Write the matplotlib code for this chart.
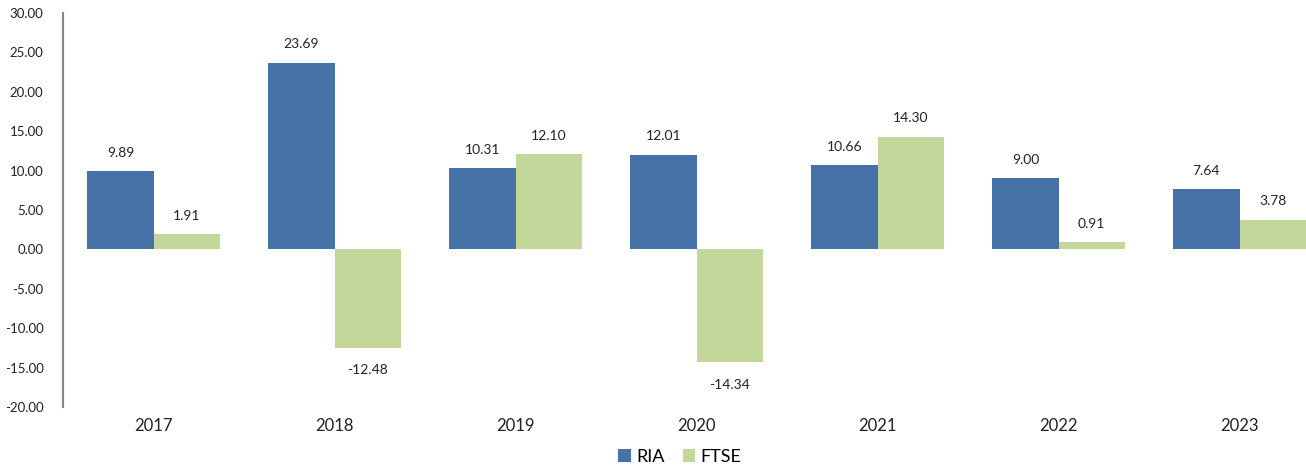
import matplotlib.pyplot as plt
import numpy as np

years = ['2017', '2018', '2019', '2020', '2021', '2022', '2023']
ria = [9.89, 23.69, 10.31, 12.01, 10.66, 9.00, 7.64]
ftse = [1.91, -12.48, 12.10, -14.34, 14.30, 0.91, 3.78]

plt.rcParams['font.family'] = ['Lato', 'DejaVu Sans']

fig = plt.figure(figsize=(13.06, 4.66), dpi=100)
# axes runs past the right edge, like the original (last bar is cut)
ax = fig.add_axes([63 / 1306, 1 - 407 / 466, 1267 / 1306, 394 / 466])

x = np.arange(len(years))
w = 0.365
b1 = ax.bar(x - w / 2, ria, w, color='#4672a7', label='RIA')
b2 = ax.bar(x + w / 2, ftse, w, color='#c4d79b', label='FTSE')

for bars, vals in [(b1, ria), (b2, ftse)]:
    for r, v in zip(bars, vals):
        cx = r.get_x() + r.get_width() / 2
        if v >= 0:
            ax.annotate(f'{v:.2f}', (cx, v), xytext=(0, 9), textcoords='offset points',
                        ha='center', va='bottom', fontsize=10, color='#222222')
        else:
            ax.annotate(f'{v:.2f}', (cx, v), xytext=(0, -12), textcoords='offset points',
                        ha='center', va='top', fontsize=10, color='#222222')

ax.set_xlim(-0.5, len(years) - 0.5)
ax.set_ylim(-20, 30)
ax.set_yticks(np.arange(-20, 31, 5))
ax.set_yticklabels([f'{t:.2f}' for t in np.arange(-20, 31, 5)], fontsize=9.5, color='#222222')
ax.set_xticks(x)
ax.set_xticklabels(years, fontsize=12, color='#222222')
ax.tick_params(axis='y', length=0, pad=14)
ax.tick_params(axis='x', length=0, pad=8)

for s in ['top', 'right', 'bottom']:
    ax.spines[s].set_visible(False)
ax.spines['left'].set_color('#868686')
ax.spines['left'].set_linewidth(1.5)

fig.legend(handles=[b1, b2], loc='center', bbox_to_anchor=(680 / 1306, 1 - 457 / 466),
           ncol=2, frameon=False, fontsize=13, handlelength=0.7, handleheight=0.7,
           handletextpad=0.3, columnspacing=1.0)

fig.savefig('out.png', dpi=100)
